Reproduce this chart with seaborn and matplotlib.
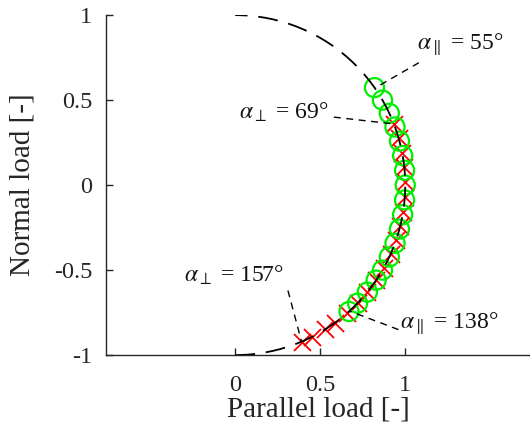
import matplotlib
matplotlib.use("Agg")
import matplotlib.pyplot as plt
from matplotlib.patches import Arc
import numpy as np
import seaborn as sns

# load angles measured from the normal axis [deg]
green_angles = [55, 60, 65, 70, 75, 80, 85, 90, 95, 100, 105, 110, 115, 120, 124, 129, 134, 138]
red_angles = [69, 74, 79, 84, 89, 94, 99, 104, 109, 114, 119, 124, 129, 134, 139, 144, 148, 153, 157]

# annotation texts, text anchor and leader line (start -> end)
labels = [r'$\alpha_{\parallel}$ = 55°', r'$\alpha_{\perp}$ = 69°',
          r'$\alpha_{\perp}$ = 157°', r'$\alpha_{\parallel}$ = 138°']
label_xy = [(1.07, 0.83), (0.02, 0.43), (-0.30, -0.53), (0.97, -0.81)]
leader_x = [[1.08, 0.82], [0.58, 0.93], [0.31, 0.39], [0.96, 0.67]]
leader_y = [[0.72, 0.57], [0.40, 0.36], [-0.62, -0.92], [-0.85, -0.74]]

xticks = [0, 0.5, 1]
yticks = [-1, -0.5, 0, 0.5, 1]
ytick_labels = ['-1', '-0.5', '0', '0.5', '1']

sns.set_style('ticks')
plt.rcParams['font.family'] = ['Liberation Serif', 'DejaVu Serif']
plt.rcParams['mathtext.fontset'] = 'stix'

fig = plt.figure(figsize=(5.3, 4.32), dpi=100)
ax = fig.add_axes([0.2, 0.178, 0.802, 0.787])

ga = np.radians(green_angles)
ra = np.radians(red_angles)

sns.scatterplot(x=np.sin(ra), y=np.cos(ra), marker='x', s=150, color='red',
                linewidth=1.3, ax=ax, zorder=3)
sns.scatterplot(x=np.sin(ga), y=np.cos(ga), marker='o', s=190, facecolor='none',
                edgecolor='#00ee00', linewidth=1.6, ax=ax, zorder=4)

ax.add_patch(Arc((0, 0), 2, 2, theta1=-90, theta2=90, color='black', lw=1.3,
                 linestyle=(0, (11, 6)), zorder=5))

for lx, ly in zip(leader_x, leader_y):
    ax.plot(lx, ly, color='black', lw=1.0, linestyle=(0, (5, 4)), zorder=6)
for txt, (tx, ty) in zip(labels, label_xy):
    ax.text(tx, ty, txt, fontsize=17, va='center', ha='left', color='#111111')

ax.set_xlim(-0.76, 1.74)
ax.set_ylim(-1, 1)
ax.set_xticks(xticks)
ax.set_xticklabels(['0', '0.5', '1'])
ax.set_yticks(yticks)
ax.set_yticklabels(ytick_labels)
ax.tick_params(direction='in', length=5, width=1, labelsize=17.5, colors='#262626')
ax.tick_params(axis='x', pad=14)
ax.tick_params(axis='y', pad=10)
for s in ['top', 'right']:
    ax.spines[s].set_visible(False)
for s in ['left', 'bottom']:
    ax.spines[s].set_color('#262626')
    ax.spines[s].set_linewidth(1.0)

ax.set_xlabel('Parallel load [-]', fontsize=21, labelpad=1, color='#262626')
ax.set_ylabel('Normal load [-]', fontsize=21, labelpad=13, color='#262626')

fig.savefig('out.png', dpi=100)
